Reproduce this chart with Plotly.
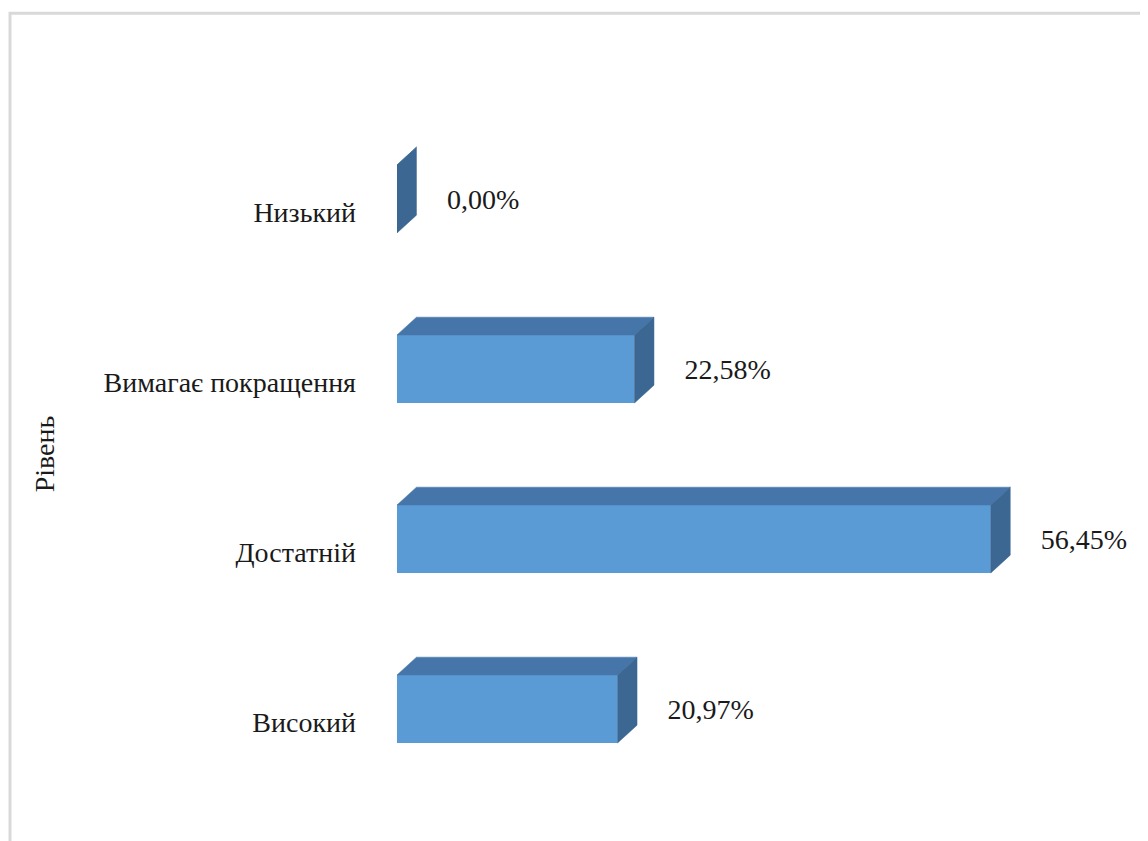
import plotly.graph_objects as go

# data (bottom to top)
categories = ["Високий", "Достатній", "Вимагає покращення", "Низький"]
values = [20.97, 56.45, 22.58, 0.00]
value_labels = ["20,97%", "56,45%", "22,58%", "0,00%"]

FRONT = "#5B9BD5"
TOP = "#4676A9"
SIDE = "#3B6792"
FONT = "Liberation Serif, Times New Roman, DejaVu Serif, serif"
TEXT = "#1a1a1a"

BAR_H = 0.4      # front face thickness (category units)
DEPTH_X = 1.85   # fake 3d depth, value units
DEPTH_Y = 0.105  # fake 3d depth, category units
LABEL_GAP = 2.9  # gap between side face and the value label
LABEL_DROP = 0.02

pos = list(range(len(categories)))

fig = go.Figure()

# front faces
fig.add_trace(go.Bar(
    x=values, y=pos, orientation="h", width=BAR_H,
    marker=dict(color=FRONT, line=dict(width=0)),
    hoverinfo="skip", showlegend=False,
))

# top and side faces, built from the bar values
top_x, top_y, side_x, side_y = [], [], [], []
for y, v in zip(pos, values):
    yt = y + BAR_H / 2
    yb = y - BAR_H / 2
    top_x += [0, v, v + DEPTH_X, DEPTH_X, 0, None]
    top_y += [yt, yt, yt + DEPTH_Y, yt + DEPTH_Y, yt, None]
    side_x += [v, v + DEPTH_X, v + DEPTH_X, v, v, None]
    side_y += [yb, yb + DEPTH_Y, yt + DEPTH_Y, yt, yb, None]

fig.add_trace(go.Scatter(
    x=top_x, y=top_y, mode="lines", fill="toself", fillcolor=TOP,
    line=dict(color=TOP, width=0.5), hoverinfo="skip", showlegend=False,
))
fig.add_trace(go.Scatter(
    x=side_x, y=side_y, mode="lines", fill="toself", fillcolor=SIDE,
    line=dict(color=SIDE, width=0.5), hoverinfo="skip", showlegend=False,
))

# value labels
fig.add_trace(go.Scatter(
    x=[v + DEPTH_X + LABEL_GAP for v in values], y=[p - LABEL_DROP for p in pos],
    mode="text", text=value_labels, textposition="middle right",
    textfont=dict(family=FONT, size=28, color=TEXT),
    cliponaxis=False, hoverinfo="skip", showlegend=False,
))

fig.update_layout(
    width=1140, height=833,
    margin=dict(l=389, r=1, t=106, b=47),
    paper_bgcolor="white", plot_bgcolor="white",
    font=dict(family=FONT, color=TEXT),
    xaxis=dict(range=[0, 71.3], visible=False, fixedrange=True),
    yaxis=dict(
        range=[-0.5, 3.5], tickvals=pos, ticktext=categories,
        showgrid=False, zeroline=False, showline=False, ticks="",
        ticklabelstandoff=40, ticklabelshift=13,
        tickfont=dict(family=FONT, size=28, color=TEXT),
        title=dict(text="Рівень", font=dict(family=FONT, size=28, color=TEXT), standoff=40),
        automargin=False, fixedrange=True,
    ),
    shapes=[dict(
        type="rect", xref="paper", yref="paper",
        x0=-0.516, x1=1.03, y0=-0.1, y1=1.148,
        line=dict(color="#D9D9D9", width=3), layer="below",
    )],
)

fig.write_html("out.html", config={"displayModeBar": False})
